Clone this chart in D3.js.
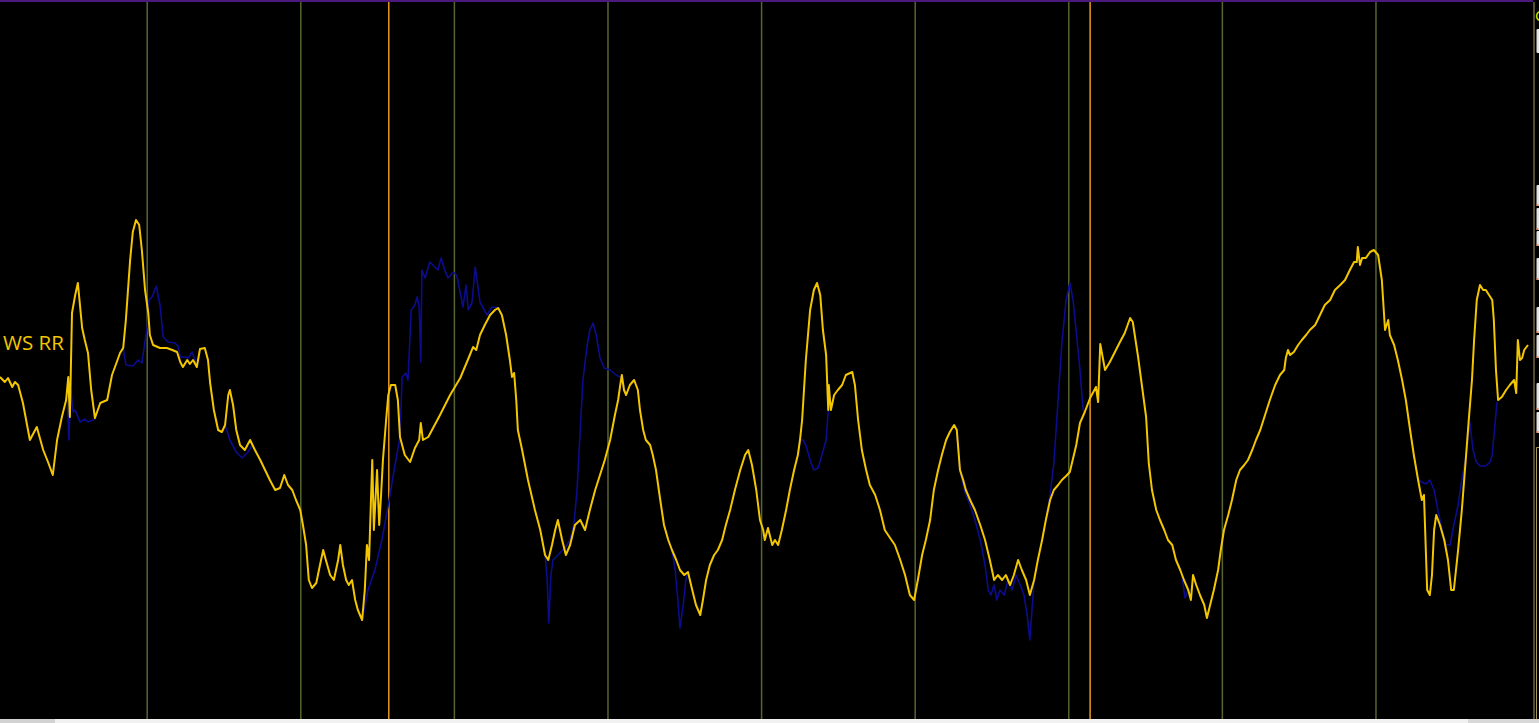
<!DOCTYPE html>
<html>
<head>
<meta charset="utf-8">
<script src="https://cdn.jsdelivr.net/npm/d3@7"></script>
<style>
  html, body { margin: 0; padding: 0; background: #000; overflow: hidden; }
  svg { display: block; }
</style>
</head>
<body>
<script>
// M5 bars, 288 per day; values of the two lines
var dayStarts = [276, 564, 852, 1140, 1428, 1716, 2004, 2292, 2580];
var sessionMarks = [729, 2044];
var seriesLabel = "WS RR";

var yellowSeries = [
  [0,34.6],[9,34.1],[15,34.5],[23,33.6],[28,34.1],[34,33.8],[43,32.0],[56,28.3],[69,29.6],[81,27.3],
  [90,26.1],[99,24.8],[107,28.3],[116,30.6],[124,32.3],[128,34.6],[131,30.6],[135,41.0],[141,42.8],[146,44.0],
  [154,39.5],[159,38.3],[165,37.0],[171,33.3],[178,30.5],[188,32.0],[201,32.3],[210,34.8],[219,36.1],[225,37.0],
  [231,37.5],[236,40.3],[244,46.3],[249,49.1],[255,50.3],[261,49.8],[266,47.3],[272,43.3],[278,41.0],[281,38.8],
  [287,37.8],[300,37.5],[313,37.5],[323,37.3],[332,37.1],[338,36.1],[343,35.6],[351,36.3],[356,35.9],[362,36.3],
  [369,35.6],[375,37.4],[384,37.5],[390,36.3],[394,34.0],[401,31.3],[409,29.3],[416,29.1],[422,29.8],[428,32.8],
  [431,33.3],[437,31.8],[443,29.3],[450,27.8],[459,27.3],[469,28.3],[478,27.3],[488,26.3],[497,25.3],[506,24.3],
  [516,23.3],[525,23.5],[533,24.8],[540,23.8],[548,23.3],[555,22.3],[563,21.3],[568,19.8],[574,17.8],[579,14.3],
  [585,13.5],[593,14.0],[600,15.8],[606,17.3],[611,16.3],[619,14.8],[626,14.3],[634,16.3],[638,17.8],[643,15.8],
  [649,14.3],[654,13.8],[660,14.3],[666,12.3],[671,11.3],[679,10.3],[684,13.3],[688,17.8],[692,16.3],[698,26.3],
  [701,19.3],[707,25.3],[711,19.8],[714,22.3],[718,26.3],[724,30.3],[728,32.8],[733,33.8],[741,33.8],[746,32.3],
  [750,28.6],[759,26.8],[769,26.1],[778,27.5],[786,28.3],[789,30.0],[793,28.3],[803,28.6],[825,30.8],[844,32.8],
  [863,34.5],[881,36.8],[887,37.6],[893,37.3],[900,38.8],[909,39.8],[919,40.8],[928,41.3],[934,41.5],[941,40.8],
  [949,38.8],[956,36.3],[960,34.6],[964,35.0],[968,32.3],[971,29.3],[979,27.3],[990,24.3],[1003,21.3],[1013,19.3],
  [1022,16.8],[1028,16.3],[1035,17.8],[1041,19.3],[1046,20.3],[1054,18.3],[1061,16.8],[1069,17.8],[1078,19.8],[1088,20.3],
  [1097,19.3],[1106,21.3],[1116,23.3],[1125,24.8],[1134,26.3],[1144,28.3],[1153,30.8],[1159,32.3],[1163,33.8],[1166,34.8],
  [1170,33.3],[1174,32.8],[1181,33.8],[1189,34.3],[1196,33.3],[1200,31.3],[1206,29.3],[1211,28.3],[1219,27.8],[1224,26.8],
  [1230,25.3],[1238,22.3],[1245,19.8],[1253,18.3],[1260,17.3],[1268,16.3],[1275,15.3],[1283,14.8],[1290,15.1],[1298,13.3],
  [1305,11.8],[1313,10.8],[1318,12.3],[1324,14.3],[1331,15.8],[1339,16.8],[1346,17.3],[1354,18.3],[1361,19.8],[1369,21.3],
  [1378,23.3],[1388,25.3],[1397,26.8],[1403,27.3],[1410,25.8],[1418,23.3],[1425,20.3],[1431,19.3],[1434,18.3],[1440,19.5],
  [1448,17.8],[1453,18.3],[1459,17.8],[1466,19.3],[1474,21.3],[1481,23.3],[1489,25.3],[1496,26.8],[1500,28.3],[1504,30.3],
  [1511,36.3],[1519,41.3],[1526,43.3],[1532,44.0],[1538,42.8],[1543,39.3],[1549,36.8],[1553,31.3],[1554,33.8],[1558,31.3],
  [1564,32.8],[1571,33.3],[1579,33.8],[1586,34.8],[1598,35.1],[1603,33.8],[1609,30.3],[1616,27.3],[1624,25.3],[1631,23.8],
  [1641,22.8],[1650,21.3],[1659,19.3],[1669,18.5],[1678,17.8],[1688,16.3],[1697,14.8],[1706,12.8],[1714,12.3],[1721,14.3],
  [1729,16.8],[1736,18.3],[1744,20.3],[1751,23.3],[1759,25.3],[1766,26.8],[1774,28.3],[1781,29.1],[1789,29.8],[1794,29.3],
  [1800,25.3],[1806,24.3],[1811,23.3],[1819,22.3],[1828,21.3],[1838,19.8],[1847,18.3],[1856,16.3],[1864,14.3],[1871,14.8],
  [1879,14.3],[1886,14.8],[1894,13.8],[1901,14.8],[1909,16.3],[1916,15.3],[1924,14.3],[1931,12.8],[1939,14.3],[1946,16.3],
  [1954,18.3],[1961,20.3],[1969,22.3],[1976,23.3],[1984,23.8],[1991,24.3],[1999,24.7],[2006,25.1],[2018,27.8],[2025,30.0],
  [2034,31.1],[2044,32.5],[2055,33.6],[2059,32.1],[2063,37.9],[2072,35.3],[2081,36.1],[2100,38.1],[2109,39.0],[2119,40.5],
  [2124,40.1],[2134,36.6],[2149,30.6],[2154,26.0],[2160,23.3],[2168,21.3],[2175,20.3],[2183,19.3],[2190,18.3],[2198,17.8],
  [2205,16.3],[2213,15.3],[2220,14.3],[2228,13.3],[2233,12.3],[2237,14.8],[2243,13.8],[2250,12.8],[2258,11.8],[2263,10.5],
  [2269,11.8],[2276,13.3],[2284,15.3],[2289,17.3],[2295,19.3],[2303,20.8],[2310,22.3],[2318,24.3],[2325,25.3],[2333,25.8],
  [2340,26.3],[2348,27.3],[2355,28.3],[2363,29.3],[2372,30.8],[2381,32.3],[2391,33.8],[2400,34.8],[2408,35.3],[2411,36.5],
  [2415,37.3],[2419,36.8],[2426,37.1],[2434,37.8],[2441,38.3],[2449,38.8],[2456,39.3],[2466,39.8],[2475,40.8],[2484,41.8],
  [2494,42.3],[2503,43.3],[2513,43.8],[2522,44.3],[2531,45.3],[2539,46.1],[2544,46.1],[2546,47.6],[2550,45.8],[2554,46.5],
  [2561,46.5],[2569,47.1],[2576,47.3],[2584,46.8],[2591,44.3],[2597,39.3],[2603,40.3],[2606,38.8],[2614,37.8],[2621,36.3],
  [2629,34.3],[2636,32.3],[2644,29.3],[2651,26.8],[2659,24.3],[2666,22.3],[2670,22.8],[2676,13.3],[2681,12.8],[2685,14.8],
  [2689,19.3],[2693,20.8],[2700,19.8],[2708,18.3],[2715,16.3],[2721,13.3],[2726,13.3],[2734,17.3],[2741,21.3],[2749,26.8],
  [2754,30.3],[2760,34.3],[2764,38.3],[2769,42.3],[2775,43.8],[2781,43.3],[2786,43.3],[2792,42.8],[2798,42.3],[2801,40.3],
  [2805,35.3],[2809,32.3],[2816,32.6],[2824,33.3],[2831,33.8],[2839,34.3],[2843,33.0],[2846,38.3],[2850,36.3],[2854,36.5],
  [2858,37.3],[2865,37.8]
];

// blue line, only where it leaves the yellow one (null = hidden under yellow)
var blueSeries = [
  [124,32.3],[126,33.1],[129,28.3],[133,33.3],[137,31.1],[141,31.3],[150,30.1],[159,30.4],[165,30.1],[178,30.4],[188,32.0],
  null,
  [225,37.0],[231,37.5],[236,35.8],[249,35.7],[259,36.3],[266,36.0],[276,39.6],[279,42.3],[285,42.6],[293,43.7],
  [300,41.8],[306,38.6],[315,38.1],[328,38.0],[334,37.7],[338,36.6],[347,36.6],[353,36.5],[360,37.1],[366,36.3],[369,35.6],
  null,
  [422,29.8],[431,28.3],[443,27.1],[454,26.5],[465,27.1],[473,27.8],
  null,
  [679,10.3],[690,13.3],[703,15.3],[716,18.3],[728,21.8],[739,25.3],[750,28.6],[754,34.6],[761,35.0],[765,34.3],
  [771,41.3],[778,41.8],[782,42.6],[786,41.6],[789,36.1],[791,45.3],[797,44.5],[806,46.1],[821,45.3],[827,46.5],
  [834,45.3],[840,44.5],[848,45.0],[853,45.0],[857,44.6],[863,43.0],[868,41.6],[874,43.8],[878,41.3],[885,42.0],
  [891,45.6],[900,42.1],[913,40.8],[923,41.6],[934,41.5],
  null,
  [1022,16.8],[1026,14.3],[1029,10.0],[1033,14.8],[1037,16.3],[1046,16.8],[1059,17.5],[1069,18.3],[1076,19.8],[1082,23.3],
  [1088,29.3],[1093,34.3],[1101,37.8],[1106,39.3],[1112,40.0],[1118,38.8],[1125,36.5],[1133,35.5],[1144,35.3],[1155,34.8],
  [1166,34.5],[1174,32.8],
  null,
  [1245,19.8],[1253,18.3],[1260,17.3],[1266,15.3],[1271,12.3],[1275,9.5],[1281,11.8],[1286,14.3],[1290,15.1],
  null,
  [1496,26.8],[1500,28.3],[1506,28.3],[1511,27.8],[1519,26.3],[1526,25.3],[1534,25.5],[1541,26.8],[1549,28.3],[1553,31.3],
  null,
  [1794,29.3],[1800,25.3],[1806,23.8],[1811,22.8],[1819,21.8],[1828,20.3],[1838,18.3],[1847,15.8],[1853,13.3],[1858,12.8],
  [1864,13.8],[1869,12.3],[1875,13.3],[1883,12.8],[1890,14.3],[1898,13.3],[1905,14.8],[1913,13.8],[1920,12.8],[1926,10.8],
  [1931,8.3],[1935,11.3],[1939,14.3],
  null,
  [1961,20.3],[1969,22.8],[1976,26.0],[1984,32.3],[1991,38.0],[1999,42.3],[2006,44.0],[2012,42.3],[2019,38.6],[2025,35.3],
  [2031,31.3],[2034,31.1],
  null,
  [2216,14.8],[2222,12.5],[2228,13.3],
  null,
  [2659,24.3],[2666,24.1],[2674,23.9],[2681,24.3],[2689,23.3],[2696,21.3],[2704,19.3],[2711,17.8],[2719,17.8],[2726,19.8],
  [2734,21.8],[2741,24.3],[2749,26.8],[2756,30.1],[2762,27.3],[2768,26.1],[2775,25.7],[2786,25.7],[2794,26.1],[2798,26.8],
  [2803,29.8],[2807,32.1]
];

var width = 1539, height = 723;
var plotRight = 1533;

var svg = d3.select("body").append("svg")
    .attr("width", width)
    .attr("height", height)
    .style("background", "#000");

var x = d3.scaleLinear().domain([0, 2875]).range([0, 1533.3]);
var y = d3.scaleLinear().domain([0, 72.3]).range([height, 0]);

svg.append("clipPath").attr("id", "plot")
    .append("rect").attr("x", 0).attr("y", 2).attr("width", plotRight).attr("height", 717);

//day separators
svg.selectAll("line.day")
    .data(dayStarts)
    .enter()
    .append("line")
    .attr("class", "day")
    .attr("x1", function(d){ return x(d); })
    .attr("x2", function(d){ return x(d); })
    .attr("y1", 2)
    .attr("y2", 719)
    .style("stroke", "#56652f")
    .style("stroke-width", 1.5);

//orange session markers
svg.selectAll("line.session")
    .data(sessionMarks)
    .enter()
    .append("line")
    .attr("class", "session")
    .attr("x1", function(d){ return x(d); })
    .attr("x2", function(d){ return x(d); })
    .attr("y1", 2)
    .attr("y2", 719)
    .style("stroke", "#e8981c")
    .style("stroke-width", 1.5);

var line = d3.line()
    .defined(function(d){ return d; })
    .x(function(d){ return x(d[0]); })
    .y(function(d){ return y(d[1]); });

var g = svg.append("g").attr("clip-path", "url(#plot)");

g.append("path")
    .datum(blueSeries)
    .attr("d", line)
    .style("fill", "none")
    .style("stroke", "#0c0c8e")
    .style("stroke-width", 1.6)
    .style("stroke-linejoin", "round");

g.append("path")
    .datum(yellowSeries)
    .attr("d", line)
    .style("fill", "none")
    .style("stroke", "#f2c600")
    .style("stroke-width", 2)
    .style("stroke-linejoin", "round");

svg.append("text")
    .attr("x", 3)
    .attr("y", 350)
    .text(seriesLabel)
    .style("font-family", "'Open Sans', 'Noto Sans', sans-serif")
    .style("font-size", "20.5px")
    .style("fill", "#f2c600");

//top purple border
svg.append("rect")
    .attr("x", 0).attr("y", 0)
    .attr("width", plotRight).attr("height", 2)
    .style("fill", "#4b1a7c");

//right side panel edge
svg.append("rect")
    .attr("x", 1533).attr("y", 0)
    .attr("width", 6).attr("height", 719)
    .style("fill", "#000");
svg.append("line")
    .attr("x1", 1534).attr("x2", 1534).attr("y1", 2).attr("y2", 719)
    .style("stroke", "#a8975a").style("stroke-width", 1);
svg.append("path")
    .attr("d", "M1539,447.5H1536.5V719")
    .style("fill", "none").style("stroke", "#a8975a").style("stroke-width", 1);

var panelBoxes = [[29, 53], [185, 206], [208, 230], [231, 246], [258, 280], [307, 333], [335, 358], [383, 410], [412, 433]];
svg.selectAll("rect.btn")
    .data(panelBoxes)
    .enter()
    .append("rect")
    .attr("class", "btn")
    .attr("x", 1536.5)
    .attr("y", function(d){ return d[0]; })
    .attr("width", 4)
    .attr("height", function(d){ return d[1] - d[0]; })
    .attr("rx", 1)
    .style("fill", "#e2e2e2");
svg.selectAll("rect.tick")
    .data(panelBoxes.slice(1))
    .enter()
    .append("rect")
    .attr("class", "tick")
    .attr("x", 1536.5)
    .attr("y", function(d){ return d[1] - 2; })
    .attr("width", 2)
    .attr("height", 2)
    .style("fill", "#f08a60");
//panel caption, cut by the window edge as in the screenshot
svg.append("text")
    .attr("x", 1535).attr("y", 21)
    .text("C")
    .style("font-family", "'Open Sans', sans-serif")
    .style("font-size", "15px")
    .style("fill", "#e6e600");

//bottom status strip
svg.append("rect").attr("x", 0).attr("y", 719).attr("width", 55).attr("height", 4).style("fill", "#d2d2d2");
svg.append("rect").attr("x", 55).attr("y", 719).attr("width", 1413).attr("height", 4).style("fill", "#f1f1f1");
svg.append("rect").attr("x", 1468).attr("y", 719).attr("width", 71).attr("height", 4).style("fill", "#d8d8d8");
</script>
</body>
</html>
